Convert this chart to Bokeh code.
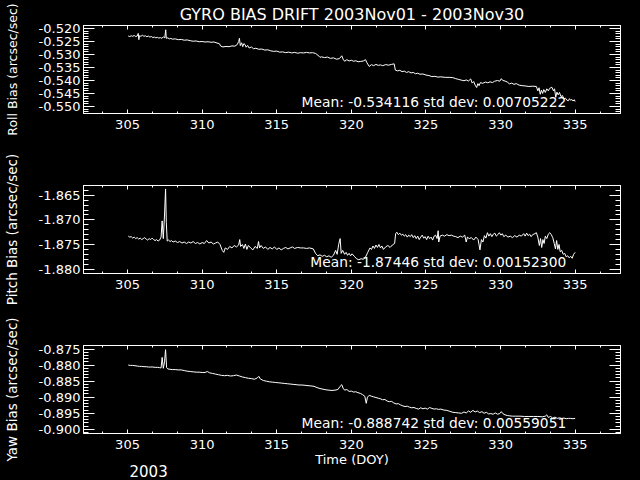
from bokeh.plotting import figure
from bokeh.models import (LinearAxis, Range1d, SingleIntervalTicker,
                          CustomJSTickFormatter, PrintfTickFormatter, Title)
from bokeh.layouts import column
from bokeh.embed import file_html
from bokeh.resources import INLINE
from bokeh.core.properties import value

FONT = "DejaVu Sans"

TITLE = "GYRO BIAS DRIFT 2003Nov01 - 2003Nov30"
X_LABEL = "Time (DOY)"
YEAR_LABEL = "2003"
Y_LABELS = ["Roll Bias (arcsec/sec)", "Pitch Bias (arcsec/sec)", "Yaw Bias (arcsec/sec)"]
MEAN_TEXTS = ["Mean: -0.534116 std dev: 0.00705222",
              "Mean: -1.87446 std dev: 0.00152300",
              "Mean: -0.888742 std dev: 0.00559051"]

# ---------------- Roll ----------------
roll_doy = [305.05, 305.15, 305.25, 305.35, 305.45, 305.55, 305.65, 305.72, 305.76, 305.80,
            305.90, 306.00, 306.10, 306.20, 306.30, 306.40, 306.50, 306.60, 306.70, 306.80,
            306.90, 307.00, 307.10, 307.20, 307.30, 307.40, 307.50, 307.56, 307.60, 307.70,
            307.80, 307.90, 308.00, 308.20, 308.40, 308.60, 308.80, 309.00, 309.20, 309.40,
            309.60, 309.80, 310.00, 310.20, 310.40, 310.60, 310.80, 311.00, 311.15, 311.25,
            311.40, 311.60, 311.80, 312.00, 312.20, 312.35, 312.45, 312.50, 312.56, 312.65,
            312.72, 312.80, 312.88, 312.95, 313.05, 313.15, 313.30, 313.45, 313.60, 313.80,
            314.00, 314.20, 314.40, 314.60, 314.80, 315.00, 315.20, 315.40, 315.60, 315.80,
            316.00, 316.20, 316.40, 316.60, 316.80, 317.00, 317.20, 317.40, 317.60, 317.75,
            317.90, 318.00, 318.20, 318.40, 318.60, 318.80, 319.00, 319.20, 319.36, 319.45,
            319.55, 319.70, 319.85, 320.00, 320.15, 320.30, 320.45, 320.60, 320.80, 320.95,
            321.05, 321.20, 321.35, 321.50, 321.65, 321.80, 321.95, 322.10, 322.30, 322.50,
            322.70, 322.87, 322.95, 323.10, 323.25, 323.40, 323.55, 323.70, 323.85, 324.00,
            324.15, 324.30, 324.45, 324.60, 324.80, 325.00, 325.20, 325.40, 325.60, 325.80,
            326.00, 326.30, 326.60, 326.80, 327.00, 327.20, 327.40, 327.55, 327.70, 327.85,
            328.00, 328.10, 328.20, 328.30, 328.40, 328.48, 328.56, 328.65, 328.80, 329.00,
            329.15, 329.30, 329.45, 329.60, 329.80, 329.95, 330.05, 330.15, 330.30, 330.45,
            330.60, 330.75, 330.90, 331.05, 331.25, 331.45, 331.65, 331.90, 332.15, 332.40,
            332.50, 332.58, 332.66, 332.74, 332.82, 332.90, 333.00, 333.10, 333.20, 333.30,
            333.44, 333.55, 333.62, 333.70, 333.78, 333.86, 333.95, 334.05, 334.15, 334.25,
            334.35, 334.45, 334.55, 334.62, 334.70, 334.78, 334.86, 334.94, 335.00]
roll_bias = [-0.5229, -0.5231, -0.5228, -0.5230, -0.5227, -0.5231, -0.5229, -0.5219, -0.5243, -0.5228,
             -0.5230, -0.5226, -0.5230, -0.5228, -0.5232, -0.5229, -0.5233, -0.5231, -0.5235, -0.5233,
             -0.5236, -0.5234, -0.5237, -0.5235, -0.5238, -0.5232, -0.5236, -0.5205, -0.5238, -0.5236,
             -0.5240, -0.5238, -0.5241, -0.5240, -0.5243, -0.5242, -0.5245, -0.5244, -0.5247, -0.5249,
             -0.5248, -0.5251, -0.5250, -0.5252, -0.5251, -0.5253, -0.5252, -0.5256, -0.5258, -0.5268,
             -0.5271, -0.5269, -0.5270, -0.5267, -0.5268, -0.5262, -0.5250, -0.5238, -0.5266, -0.5255,
             -0.5270, -0.5258, -0.5262, -0.5272, -0.5265, -0.5275, -0.5271, -0.5278, -0.5276, -0.5280,
             -0.5279, -0.5283, -0.5282, -0.5286, -0.5288, -0.5287, -0.5291, -0.5290, -0.5293, -0.5291,
             -0.5294, -0.5292, -0.5295, -0.5293, -0.5294, -0.5292, -0.5294, -0.5293, -0.5296, -0.5302,
             -0.5311, -0.5309, -0.5312, -0.5310, -0.5315, -0.5313, -0.5318, -0.5316, -0.5305, -0.5318,
             -0.5326, -0.5320, -0.5325, -0.5322, -0.5326, -0.5324, -0.5328, -0.5327, -0.5325, -0.5320,
             -0.5332, -0.5346, -0.5339, -0.5343, -0.5338, -0.5342, -0.5340, -0.5343, -0.5339, -0.5341,
             -0.5338, -0.5336, -0.5360, -0.5363, -0.5361, -0.5366, -0.5364, -0.5369, -0.5366, -0.5371,
             -0.5369, -0.5374, -0.5372, -0.5376, -0.5375, -0.5379, -0.5381, -0.5385, -0.5384, -0.5387,
             -0.5386, -0.5388, -0.5388, -0.5389, -0.5393, -0.5396, -0.5399, -0.5401, -0.5398, -0.5402,
             -0.5394, -0.5410, -0.5404, -0.5418, -0.5427, -0.5412, -0.5420, -0.5408, -0.5411, -0.5406,
             -0.5409, -0.5405, -0.5408, -0.5403, -0.5400, -0.5403, -0.5393, -0.5400, -0.5402, -0.5406,
             -0.5413, -0.5410, -0.5415, -0.5412, -0.5418, -0.5420, -0.5421, -0.5423, -0.5422, -0.5423,
             -0.5440, -0.5428, -0.5453, -0.5437, -0.5450, -0.5435, -0.5446, -0.5432, -0.5440, -0.5430,
             -0.5426, -0.5440, -0.5432, -0.5465, -0.5445, -0.5455, -0.5446, -0.5462, -0.5458, -0.5472,
             -0.5468, -0.5476, -0.5478, -0.5470, -0.5476, -0.5473, -0.5479, -0.5474, -0.5481]

# ---------------- Pitch ----------------
pitch_doy = [305.05, 305.15, 305.25, 305.35, 305.45, 305.55, 305.65, 305.75, 305.85, 305.95,
             306.05, 306.15, 306.25, 306.35, 306.45, 306.55, 306.65, 306.75, 306.85, 306.95,
             307.05, 307.15, 307.25, 307.32, 307.40, 307.48, 307.55, 307.60, 307.66, 307.75,
             307.85, 307.95, 308.05, 308.20, 308.35, 308.50, 308.65, 308.80, 308.95, 309.10,
             309.25, 309.40, 309.55, 309.70, 309.85, 310.00, 310.15, 310.30, 310.45, 310.60,
             310.75, 310.90, 311.05, 311.20, 311.35, 311.45, 311.55, 311.70, 311.85, 312.00,
             312.15, 312.30, 312.45, 312.52, 312.58, 312.70, 312.80, 312.90, 313.00, 313.10,
             313.25, 313.40, 313.55, 313.70, 313.78, 313.85, 313.95, 314.10, 314.25, 314.40,
             314.55, 314.70, 314.85, 315.00, 315.15, 315.30, 315.45, 315.60, 315.75, 315.90,
             316.05, 316.20, 316.40, 316.60, 316.80, 317.00, 317.20, 317.45, 317.60, 317.75,
             317.90, 318.05, 318.20, 318.35, 318.50, 318.65, 318.80, 318.95, 319.05, 319.15,
             319.25, 319.32, 319.42, 319.55, 319.65, 319.75, 319.85, 319.95, 320.05, 320.20,
             320.35, 320.50, 320.65, 320.80, 320.95, 321.10, 321.25, 321.35, 321.45, 321.55,
             321.65, 321.75, 321.85, 321.95, 322.05, 322.15, 322.30, 322.45, 322.60, 322.75,
             322.90, 322.97, 323.05, 323.15, 323.25, 323.35, 323.45, 323.55, 323.65, 323.75,
             323.85, 323.95, 324.05, 324.15, 324.25, 324.35, 324.45, 324.55, 324.65, 324.75,
             324.85, 324.95, 325.05, 325.15, 325.25, 325.35, 325.45, 325.55, 325.65, 325.75,
             325.82, 325.86, 325.95, 326.10, 326.25, 326.40, 326.55, 326.70, 326.85, 327.00,
             327.15, 327.30, 327.45, 327.60, 327.70, 327.78, 327.90, 328.05, 328.20, 328.35,
             328.50, 328.62, 328.72, 328.82, 328.92, 329.02, 329.12, 329.22, 329.32, 329.42,
             329.52, 329.62, 329.72, 329.82, 329.92, 330.02, 330.12, 330.22, 330.35, 330.50,
             330.65, 330.80, 330.95, 331.10, 331.25, 331.40, 331.55, 331.65, 331.75, 331.85,
             331.95, 332.05, 332.15, 332.30, 332.40, 332.50, 332.60, 332.68, 332.76, 332.84,
             332.92, 333.00, 333.10, 333.20, 333.30, 333.40, 333.50, 333.60, 333.68, 333.76,
             333.84, 333.92, 334.00, 334.10, 334.20, 334.30, 334.40, 334.50, 334.60, 334.70,
             334.80, 334.90, 335.00]
pitch_bias = [-1.8733, -1.8735, -1.8734, -1.8737, -1.8735, -1.8738, -1.8736, -1.8739, -1.8737, -1.8740,
              -1.8738, -1.8736, -1.8739, -1.8741, -1.8738, -1.8740, -1.8737, -1.8740, -1.8742, -1.8740,
              -1.8743, -1.8741, -1.8735, -1.8702, -1.8738, -1.8690, -1.8637, -1.8705, -1.8743, -1.8741,
              -1.8744, -1.8742, -1.8745, -1.8743, -1.8746, -1.8744, -1.8747, -1.8745, -1.8748, -1.8745,
              -1.8747, -1.8744, -1.8748, -1.8746, -1.8749, -1.8746, -1.8748, -1.8742, -1.8747, -1.8745,
              -1.8749, -1.8747, -1.8745, -1.8750, -1.8762, -1.8766, -1.8757, -1.8760, -1.8754, -1.8757,
              -1.8752, -1.8755, -1.8751, -1.8740, -1.8754, -1.8750, -1.8758, -1.8749, -1.8760, -1.8752,
              -1.8757, -1.8761, -1.8754, -1.8758, -1.8744, -1.8757, -1.8752, -1.8758, -1.8755, -1.8760,
              -1.8756, -1.8759, -1.8755, -1.8760, -1.8757, -1.8761, -1.8758, -1.8756, -1.8759, -1.8757,
              -1.8755, -1.8758, -1.8756, -1.8757, -1.8757, -1.8758, -1.8757, -1.8759, -1.8768, -1.8773,
              -1.8771, -1.8774, -1.8772, -1.8775, -1.8773, -1.8776, -1.8772, -1.8762, -1.8770, -1.8750,
              -1.8738, -1.8768, -1.8762, -1.8770, -1.8766, -1.8772, -1.8768, -1.8773, -1.8769, -1.8774,
              -1.8779, -1.8781, -1.8779, -1.8780, -1.8776, -1.8766, -1.8757, -1.8760, -1.8753, -1.8758,
              -1.8751, -1.8756, -1.8750, -1.8757, -1.8753, -1.8760, -1.8755, -1.8752, -1.8756, -1.8751,
              -1.8748, -1.8728, -1.8725, -1.8730, -1.8727, -1.8731, -1.8729, -1.8733, -1.8730, -1.8735,
              -1.8731, -1.8734, -1.8730, -1.8736, -1.8732, -1.8738, -1.8733, -1.8740, -1.8735, -1.8731,
              -1.8737, -1.8734, -1.8740, -1.8733, -1.8738, -1.8735, -1.8741, -1.8733, -1.8731, -1.8738,
              -1.8722, -1.8745, -1.8733, -1.8731, -1.8733, -1.8730, -1.8732, -1.8731, -1.8733, -1.8734,
              -1.8736, -1.8733, -1.8735, -1.8731, -1.8745, -1.8735, -1.8738, -1.8736, -1.8741, -1.8735,
              -1.8740, -1.8761, -1.8740, -1.8745, -1.8732, -1.8737, -1.8726, -1.8733, -1.8728, -1.8734,
              -1.8729, -1.8727, -1.8733, -1.8730, -1.8726, -1.8731, -1.8728, -1.8734, -1.8731, -1.8735,
              -1.8733, -1.8736, -1.8732, -1.8735, -1.8731, -1.8733, -1.8728, -1.8733, -1.8727, -1.8732,
              -1.8729, -1.8734, -1.8730, -1.8728, -1.8726, -1.8735, -1.8752, -1.8738, -1.8756, -1.8740,
              -1.8748, -1.8733, -1.8738, -1.8729, -1.8726, -1.8730, -1.8736, -1.8748, -1.8759, -1.8742,
              -1.8760, -1.8750, -1.8765, -1.8762, -1.8770, -1.8768, -1.8775, -1.8773, -1.8777, -1.8774,
              -1.8778, -1.8770, -1.8766]

# ---------------- Yaw ----------------
yaw_doy = [305.05, 305.20, 305.35, 305.50, 305.65, 305.80, 305.95, 306.10, 306.25, 306.40,
           306.55, 306.70, 306.85, 307.00, 307.15, 307.25, 307.32, 307.40, 307.48, 307.55,
           307.62, 307.70, 307.85, 308.00, 308.20, 308.40, 308.60, 308.80, 309.00, 309.20,
           309.40, 309.60, 309.80, 310.00, 310.20, 310.35, 310.50, 310.70, 310.90, 311.10,
           311.30, 311.50, 311.70, 311.90, 312.10, 312.30, 312.50, 312.70, 312.90, 313.10,
           313.30, 313.50, 313.70, 313.80, 313.90, 314.10, 314.30, 314.50, 314.70, 314.90,
           315.10, 315.30, 315.50, 315.70, 315.90, 316.10, 316.30, 316.50, 316.70, 316.90,
           317.10, 317.30, 317.50, 317.70, 317.90, 318.10, 318.30, 318.50, 318.70, 318.90,
           319.10, 319.25, 319.36, 319.45, 319.55, 319.70, 319.85, 320.00, 320.15, 320.30,
           320.45, 320.60, 320.75, 320.90, 321.00, 321.08, 321.20, 321.35, 321.50, 321.65,
           321.80, 321.95, 322.10, 322.25, 322.40, 322.55, 322.70, 322.85, 323.00, 323.15,
           323.30, 323.45, 323.60, 323.75, 323.90, 324.05, 324.20, 324.35, 324.50, 324.65,
           324.80, 324.95, 325.10, 325.25, 325.40, 325.55, 325.70, 325.85, 326.00, 326.20,
           326.40, 326.60, 326.80, 327.00, 327.20, 327.40, 327.55, 327.70, 327.85, 328.00,
           328.15, 328.30, 328.45, 328.60, 328.75, 328.90, 329.05, 329.20, 329.35, 329.50,
           329.65, 329.80, 329.95, 330.05, 330.15, 330.30, 330.45, 330.60, 330.80, 331.00,
           331.30, 331.60, 331.90, 332.20, 332.50, 332.80, 333.00, 333.10, 333.20, 333.35,
           333.50, 333.65, 333.80, 333.95, 334.10, 334.25, 334.40, 334.55, 334.70, 334.85,
           335.00]
yaw_bias = [-0.8800, -0.8801, -0.8801, -0.8802, -0.8803, -0.8804, -0.8804, -0.8805, -0.8805, -0.8806,
            -0.8806, -0.8806, -0.8807, -0.8807, -0.8808, -0.8809, -0.8776, -0.8810, -0.8790, -0.8752,
            -0.8808, -0.8812, -0.8813, -0.8814, -0.8814, -0.8815, -0.8815, -0.8817, -0.8819, -0.8820,
            -0.8821, -0.8822, -0.8822, -0.8823, -0.8823, -0.8820, -0.8824, -0.8826, -0.8828, -0.8830,
            -0.8832, -0.8833, -0.8832, -0.8834, -0.8833, -0.8831, -0.8834, -0.8837, -0.8839, -0.8841,
            -0.8842, -0.8844, -0.8840, -0.8835, -0.8843, -0.8848, -0.8850, -0.8852, -0.8853, -0.8854,
            -0.8855, -0.8856, -0.8857, -0.8858, -0.8859, -0.8860, -0.8861, -0.8862, -0.8862, -0.8863,
            -0.8864, -0.8865, -0.8866, -0.8870, -0.8873, -0.8875, -0.8877, -0.8878, -0.8879, -0.8878,
            -0.8876, -0.8866, -0.8861, -0.8872, -0.8878, -0.8876, -0.8882, -0.8881, -0.8884, -0.8883,
            -0.8886, -0.8888, -0.8892, -0.8897, -0.8919, -0.8900, -0.8894, -0.8897, -0.8899, -0.8901,
            -0.8903, -0.8905, -0.8908, -0.8907, -0.8912, -0.8914, -0.8913, -0.8918, -0.8921, -0.8920,
            -0.8924, -0.8927, -0.8929, -0.8928, -0.8931, -0.8933, -0.8932, -0.8935, -0.8937, -0.8933,
            -0.8936, -0.8934, -0.8937, -0.8932, -0.8935, -0.8937, -0.8936, -0.8938, -0.8937, -0.8940,
            -0.8941, -0.8944, -0.8947, -0.8948, -0.8949, -0.8950, -0.8946, -0.8949, -0.8943, -0.8947,
            -0.8941, -0.8946, -0.8943, -0.8948, -0.8945, -0.8950, -0.8947, -0.8952, -0.8951, -0.8953,
            -0.8949, -0.8953, -0.8951, -0.8945, -0.8951, -0.8955, -0.8957, -0.8958, -0.8959, -0.8959,
            -0.8959, -0.8960, -0.8960, -0.8960, -0.8960, -0.8961, -0.8959, -0.8955, -0.8963, -0.8960,
            -0.8965, -0.8962, -0.8966, -0.8964, -0.8966, -0.8965, -0.8967, -0.8966, -0.8966, -0.8967,
            -0.8966]

X_RANGE = (302.05, 338.04)
Y_RANGES = [(-0.5527, -0.51885), (-1.8809, -1.8630), (-0.9013, -0.8739)]
Y_LABEL_SIZES = ["12.5px", "13.5px", "13.5px"]
MEAN_X = 334.4
MEAN_Y = [-0.54846, -1.87863, -0.89791]

BLANK = CustomJSTickFormatter(code="return '';")


def style_axis(ax, tick_major, tick_minor, labels=True):
    ax.axis_line_color = "white"
    ax.major_tick_line_color = "white"
    ax.minor_tick_line_color = "white"
    ax.major_tick_in = tick_major
    ax.major_tick_out = 0
    ax.minor_tick_in = tick_minor
    ax.minor_tick_out = 0
    ax.major_label_text_color = "white"
    ax.major_label_text_font = FONT
    ax.major_label_text_font_size = "13px"
    ax.axis_label_text_color = "white"
    ax.axis_label_text_font = FONT
    ax.axis_label_text_font_style = "normal"
    if not labels:
        ax.major_label_standoff = 0


def panel(doy, vals, idx, top_border, bottom_border, first=False, last=False):
    p = figure(frame_width=537, frame_height=88,
               x_range=Range1d(*X_RANGE), y_range=Range1d(*Y_RANGES[idx]),
               output_backend="svg", toolbar_location=None,
               min_border_left=80, min_border_right=23,
               min_border_top=top_border, min_border_bottom=bottom_border,
               background_fill_color="black", border_fill_color="black",
               outline_line_color="white",
               x_axis_location=None, y_axis_location=None)
    p.xgrid.visible = False
    p.ygrid.visible = False

    xt = SingleIntervalTicker(interval=5, num_minor_ticks=3)
    yt = SingleIntervalTicker(interval=0.005, num_minor_ticks=5)

    bottom = LinearAxis(ticker=xt, formatter=PrintfTickFormatter(format="%d"))
    style_axis(bottom, 4, 2)
    bottom.major_label_standoff = 6
    if last:
        bottom.axis_label = X_LABEL
        bottom.axis_label_text_font_size = "13px"
        bottom.axis_label_standoff = 0
    p.add_layout(bottom, "below")

    top = LinearAxis(ticker=xt, formatter=BLANK)
    style_axis(top, 4, 2, labels=False)
    p.add_layout(top, "above")

    left = LinearAxis(ticker=yt, formatter=PrintfTickFormatter(format="%.3f"),
                      axis_label=Y_LABELS[idx])
    style_axis(left, 11, 5)
    left.major_label_standoff = 3
    left.axis_label_standoff = 16
    left.axis_label_text_font_size = Y_LABEL_SIZES[idx]
    p.add_layout(left, "left")

    right = LinearAxis(ticker=yt, formatter=BLANK)
    style_axis(right, 11, 5, labels=False)
    p.add_layout(right, "right")

    p.line(doy, vals, line_color="white", line_width=1)
    p.text(x=[MEAN_X], y=[MEAN_Y[idx]], text=[MEAN_TEXTS[idx]],
           text_align="right", text_baseline="middle", text_color="white",
           text_font=value(FONT), text_font_size="13.8px")

    if first:
        p.title.text = TITLE
        p.title.align = "center"
        p.title.text_color = "white"
        p.title.text_font = FONT
        p.title.text_font_style = "normal"
        p.title.text_font_size = "16px"
        p.title.standoff = 4
    if last:
        p.add_layout(Title(text=YEAR_LABEL, align="left", offset=46,
                           text_color="white", text_font=FONT,
                           text_font_style="normal", text_font_size="15px",
                           standoff=-13), "below")
    return p


p1 = panel(roll_doy, roll_bias, 0, 23, 39, first=True)
p2 = panel(pitch_doy, pitch_bias, 1, 33, 39)
p3 = panel(yaw_doy, yaw_bias, 2, 33, 49, last=True)

layout = column(p1, p2, p3, spacing=0, styles={"background-color": "black"})

open("out.html", "w").write(file_html(layout, INLINE))
